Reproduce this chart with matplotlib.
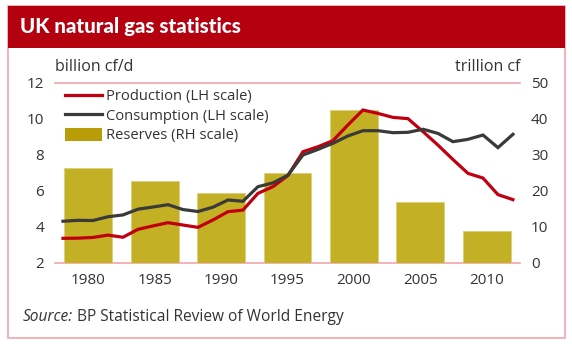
import matplotlib
matplotlib.use("Agg")
import matplotlib.pyplot as plt
from matplotlib.patches import Rectangle, Patch
from matplotlib.lines import Line2D

# data ---------------------------------------------
bar_labels = ["1980", "1985", "1990", "1995", "2000", "2005", "2010"]
reserves = [26.4, 22.9, 19.4, 24.9, 42.5, 17.0, 9.0]  # trillion cf

years = list(range(1980, 2011))
production = [3.37, 3.38, 3.42, 3.55, 3.43, 3.87, 4.06, 4.24, 4.11, 3.98,
              4.39, 4.85, 4.94, 5.87, 6.24, 6.86, 8.18, 8.46, 8.80, 9.67,
              10.50, 10.31, 10.09, 10.02, 9.30, 8.55, 7.75, 6.98, 6.72, 5.80,
              5.52]
consumption = [4.32, 4.37, 4.36, 4.57, 4.67, 4.99, 5.11, 5.24, 4.97, 4.86,
               5.10, 5.50, 5.43, 6.24, 6.45, 6.88, 8.00, 8.31, 8.65, 9.06,
               9.35, 9.35, 9.24, 9.26, 9.43, 9.20, 8.74, 8.87, 9.11, 8.41,
               9.15]

left_ticks = [2, 4, 6, 8, 10, 12]
right_ticks = [0, 10, 20, 30, 40, 50]

# colours
red = "#c00010"
dark = "#3a3a3a"
gold = "#c4b024"
pink = "#f2a4ab"
txt = "#333333"

plt.rcParams["font.family"] = ["Open Sans", "DejaVu Sans"]

W, H = 572, 349
fig = plt.figure(figsize=(W / 100, H / 100), dpi=100)

def fx(px):
    return px / W

def fy(py):
    return 1 - py / H

# frame + header
fig.patches.append(Rectangle((fx(8), fy(338)), fx(565) - fx(8), fy(6) - fy(338),
                             transform=fig.transFigure, fill=False,
                             edgecolor=pink, linewidth=1.2))
fig.patches.append(Rectangle((fx(8), fy(48)), fx(565) - fx(8), fy(6) - fy(48),
                             transform=fig.transFigure, facecolor="#b5000f",
                             edgecolor="none"))
fig.text(fx(20), fy(27), "UK natural gas statistics", color="white",
         fontsize=14.8, fontweight="black", family=["Lato", "DejaVu Sans"],
         va="center", ha="left")

rect = [fx(55), fy(263), fx(520) - fx(55), fy(83) - fy(263)]

# bars (right hand scale)
axb = fig.add_axes(rect)
axb.bar(range(len(bar_labels)), reserves, width=0.72, color=gold,
        edgecolor="#d9cf7a", linewidth=0.6, zorder=2)
axb.set_xlim(-0.5, len(bar_labels) - 0.5)
axb.set_ylim(0, 50)
axb.set_xticks(range(len(bar_labels)))
axb.set_xticklabels(bar_labels)
axb.yaxis.tick_right()
axb.set_yticks(right_ticks)
axb.tick_params(length=0, labelsize=11, labelcolor=txt, pad=8)
axb.tick_params(axis="x", pad=7)
for s in ["left", "right"]:
    axb.spines[s].set_visible(False)
for s in ["top", "bottom"]:
    axb.spines[s].set_color(pink)
    axb.spines[s].set_linewidth(1.2)
    axb.spines[s].set_zorder(1)

# lines (left hand scale)
axl = fig.add_axes(rect, frameon=False)
axl.plot(years, production, color=red, lw=2.3, solid_joinstyle="miter")
axl.plot(years, consumption, color=dark, lw=2.3, solid_joinstyle="miter")
axl.set_xlim(1979.47, 2010.47)
axl.set_ylim(2, 12)
axl.set_yticks(left_ticks)
axl.set_xticks([])
axl.tick_params(length=0, labelsize=11, labelcolor=txt, pad=8)

fig.text(fx(55), fy(67), "billion cf/d", fontsize=11.5, color=txt,
         ha="left", va="center")
fig.text(fx(520), fy(67), "trillion cf", fontsize=11.5, color=txt,
         ha="right", va="center")

handles = [Line2D([], [], color=red, lw=2.3),
           Line2D([], [], color=dark, lw=2.3),
           Patch(facecolor="#b89c08", edgecolor="none")]
labels = ["Production (LH scale)", "Consumption (LH scale)",
          "Reserves (RH scale)"]
axl.legend(handles, labels, loc="upper left",
           bbox_to_anchor=(fx(65), fy(89)), bbox_transform=fig.transFigure,
           frameon=False, fontsize=10.6, labelcolor=txt, handlelength=2.5,
           handleheight=0.95, handletextpad=0.3, labelspacing=0.28,
           borderpad=0, borderaxespad=0)

fig.text(fx(23), fy(317), "Source:", fontsize=11.2, color=txt,
         style="italic", ha="left", va="center")
fig.text(fx(77), fy(317), "BP Statistical Review of World Energy",
         fontsize=11.2, color=txt, ha="left", va="center")

fig.savefig("out.png", dpi=100)
